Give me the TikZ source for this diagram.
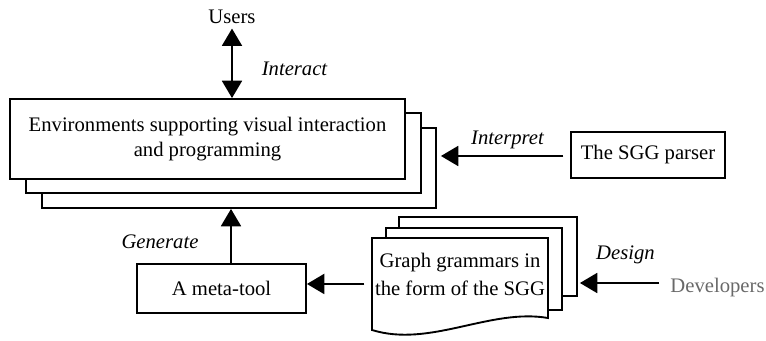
\documentclass[tikz,border=0pt]{standalone}
\usepackage{fontspec}
\setmainfont{Liberation Serif}
\usetikzlibrary{arrows.meta}
\definecolor{devgray}{RGB}{105,105,105}
\tikzset{
  box/.style={draw, fill=white, line width=1.4pt, inner sep=0pt, align=center},
  lbl/.style={font=\fontsize{15.5}{18.75}\selectfont\itshape},
  conn/.style={line width=1.4pt, -{Triangle[length=13pt,width=15pt]}},
}
\begin{document}
\begin{tikzpicture}[x=0.75pt, y=-0.75pt, font=\fontsize{15.5}{18.75}\selectfont]
  \useasboundingbox (0,0) rectangle (766,341);
  % stacked environment boxes
  \node[box, minimum width=295.5pt, minimum height=60pt] (env3) at (239,168) {};
  \node[box, minimum width=296.25pt, minimum height=60pt] (env2) at (223.5,153) {};
  \node[box, minimum width=296.25pt, minimum height=60pt] (env) at (207.5,139)
    {Environments supporting visual interaction\\and programming};
  \node (users) at (232,17) {Users};
  \node[box, minimum width=115.5pt, minimum height=34.5pt] (parser) at (648,155) {The SGG parser};
  \node[box, minimum width=126.75pt, minimum height=36.75pt] (meta) at (221.5,288.5) {A meta-tool};
  % stacked grammar documents
  \node[box, minimum width=133.5pt, minimum height=59.25pt] (doc3) at (488,256.5) {};
  \node[box, minimum width=132pt, minimum height=61.5pt] (doc2) at (474,269) {};
  \draw[line width=1.4pt, fill=white] (372,238) -- (548,238) -- (548,318)
    .. controls (490,308) and (430,348) .. (372,330) -- cycle;
  \node[align=center, minimum width=132pt, font=\fontsize{15.5}{21}\selectfont] (gram) at (460,274)
    {Graph grammars in\\the form of the SGG};
  \node[text=devgray] (dev) at (717.5,288) {Developers};
  % labels
  \node[lbl] (interact) at (294.5,69) {Interact};
  \node[lbl] (interpret) at (507.5,140) {Interpret};
  \node[lbl] (generate) at (160,242) {Generate};
  \node[lbl] (design) at (625.5,255) {Design};
  % connectors
  \coordinate (gx) at (231,0);
  \begin{scope}[conn]
    \draw[{Triangle[length=13pt,width=15pt]}-{Triangle[length=13pt,width=15pt]}]
      (users) -- (users |- env.north);
    \draw[shorten <=5pt, shorten >=3pt] ([yshift=-0.75pt]parser.west) -- ([yshift=-0.75pt]parser.west -| env3.east);
    \draw (meta.north -| gx) -- (env3.south -| gx);
    \draw[shorten <=4.5pt] ([yshift=3.4pt]meta.east -| gram.west) -- ([yshift=3.4pt]meta.east);
    \draw[shorten <=5pt, shorten >=1.5pt] ([yshift=3.75pt]dev.west) -- ([yshift=3.75pt]dev.west -| doc3.east);
  \end{scope}
\end{tikzpicture}
\end{document}
